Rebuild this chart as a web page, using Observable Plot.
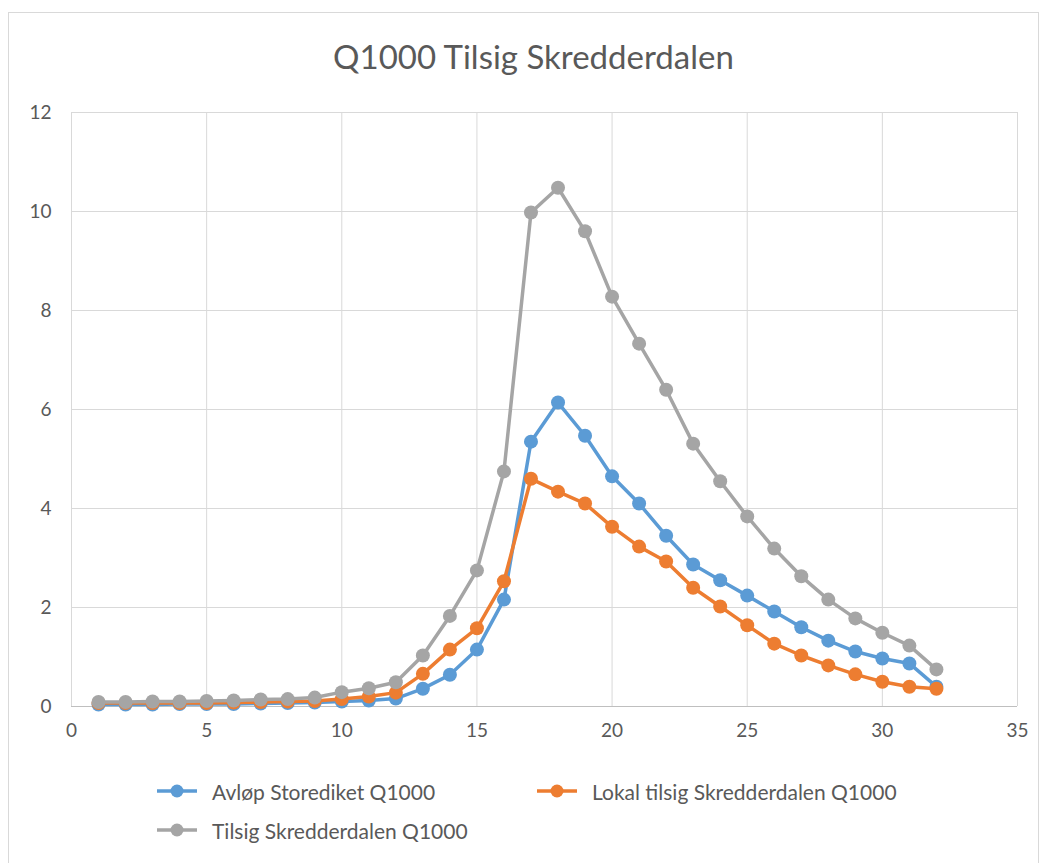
<!DOCTYPE html>
<html>
<head>
<meta charset="utf-8">
<script src="https://cdn.jsdelivr.net/npm/d3@7"></script>
<script src="https://cdn.jsdelivr.net/npm/@observablehq/plot@0.6"></script>
<style>
  body { margin: 0; background: #fff; font-family: Lato, "Open Sans", sans-serif; }
  #chart { position: relative; width: 1045px; height: 863px; overflow: hidden; }
  #frame { position: absolute; left: 8px; top: 12px; width: 1031px; height: 870px; border: 1px solid #d9d9d9; box-sizing: border-box; }
  #title { position: absolute; left: 0; width: 1067px; top: 36px; text-align: center; font-size: 33px; color: #595959; }
  #plot { position: absolute; left: 0; top: 90px; }
  .legend-row { position: absolute; display: flex; align-items: center; font-size: 21px; color: #595959; white-space: nowrap; }
  .legend-row svg { margin-right: 15px; }
</style>
</head>
<body>
<div id="chart">
  <div id="frame"></div>
  <div id="title">Q1000 Tilsig Skredderdalen</div>
  <div id="plot"></div>
  <div id="legend"></div>
</div>
<script>
// Time steps 1..32
const steps = d3.range(1, 33);

// Avløp Storediket Q1000
const avlop = [0.04, 0.04, 0.04, 0.05, 0.05, 0.05, 0.06, 0.07, 0.08, 0.10, 0.12, 0.16,
  0.36, 0.64, 1.15, 2.16, 5.35, 6.14, 5.47, 4.65, 4.10, 3.45, 2.87, 2.55,
  2.24, 1.92, 1.60, 1.33, 1.11, 0.97, 0.87, 0.40];

// Lokal tilsig Skredderdalen Q1000
const lokal = [0.07, 0.07, 0.07, 0.07, 0.07, 0.08, 0.09, 0.10, 0.11, 0.15, 0.20, 0.28,
  0.66, 1.15, 1.58, 2.53, 4.60, 4.34, 4.10, 3.63, 3.23, 2.93, 2.40, 2.02,
  1.64, 1.27, 1.03, 0.83, 0.65, 0.50, 0.40, 0.36];

// Tilsig Skredderdalen Q1000
const tilsig = [0.09, 0.09, 0.10, 0.10, 0.11, 0.12, 0.14, 0.15, 0.18, 0.29, 0.37, 0.49,
  1.03, 1.83, 2.75, 4.75, 9.98, 10.48, 9.60, 8.28, 7.33, 6.40, 5.31, 4.55,
  3.84, 3.19, 2.63, 2.16, 1.78, 1.49, 1.23, 0.75];

const seriesNames = ["Avløp Storediket Q1000", "Lokal tilsig Skredderdalen Q1000", "Tilsig Skredderdalen Q1000"];
const seriesColors = ["#5b9bd5", "#ed7d31", "#a5a5a5"];
const seriesValues = [avlop, lokal, tilsig];

const xTicks = [0, 5, 10, 15, 20, 25, 30, 35];
const yTicks = [0, 2, 4, 6, 8, 10, 12];

const rows = seriesNames.flatMap((name, i) =>
  steps.map((t, j) => ({series: name, t, v: seriesValues[i][j]})));

const marks = [
  Plot.gridX(xTicks, {stroke: "#d9d9d9", strokeOpacity: 1, strokeWidth: 1}),
  Plot.gridY(yTicks, {stroke: "#d9d9d9", strokeOpacity: 1, strokeWidth: 1}),
  Plot.ruleY([0], {stroke: "#bfbfbf", strokeWidth: 1.2}),
  Plot.axisX(xTicks, {tickSize: 0, tickPadding: 17, fontSize: 19, color: "#595959", tickFormat: d3.format("d"), label: null}),
  Plot.axisY(yTicks, {tickSize: 0, tickPadding: 20, fontSize: 19, color: "#595959", tickFormat: d3.format("d"), label: null})
];
seriesNames.forEach((name, i) => {
  const d = rows.filter(r => r.series === name);
  marks.push(Plot.line(d, {x: "t", y: "v", stroke: seriesColors[i], strokeWidth: 3.5}));
  marks.push(Plot.dot(d, {x: "t", y: "v", fill: seriesColors[i], r: 7}));
});

const chart = Plot.plot({
  width: 1045,
  height: 670,
  marginLeft: 71,
  marginRight: 28,
  marginTop: 22,
  marginBottom: 54,
  style: {fontFamily: "Lato, 'Open Sans', sans-serif", background: "transparent", overflow: "visible"},
  x: {domain: [0, 35], label: null},
  y: {domain: [0, 12], label: null},
  marks
});
document.getElementById("plot").appendChild(chart);

// Legend: line-with-marker swatches
const legendPos = [
  {left: 157, top: 777},
  {left: 537, top: 777},
  {left: 157, top: 816}
];
const legend = document.getElementById("legend");
seriesNames.forEach((name, i) => {
  const row = document.createElement("div");
  row.className = "legend-row";
  row.style.left = legendPos[i].left + "px";
  row.style.top = legendPos[i].top + "px";
  row.innerHTML = `<svg width="40" height="28"><line x1="0" x2="40" y1="14" y2="14" stroke="${seriesColors[i]}" stroke-width="3.5"/><circle cx="20" cy="14" r="6.5" fill="${seriesColors[i]}"/></svg><span></span>`;
  row.querySelector("span").textContent = name;
  legend.appendChild(row);
});
</script>
</body>
</html>
